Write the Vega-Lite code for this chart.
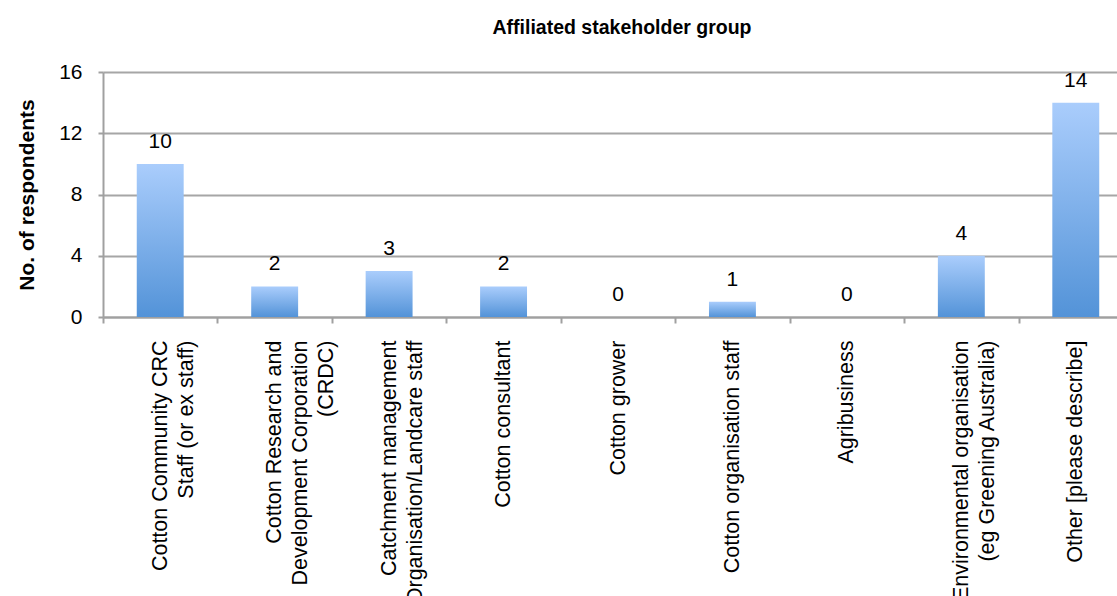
{
  "$schema": "https://vega.github.io/schema/vega-lite/v6.json",
  "width": 1014,
  "height": 245,
  "autosize": {"type": "none"},
  "padding": {"left": 103, "top": 72, "right": 0, "bottom": 279},
  "background": "white",
  "title": {
    "text": "Affiliated stakeholder group",
    "font": "Liberation Sans",
    "fontSize": 19.5,
    "fontWeight": "bold",
    "color": "#000000",
    "anchor": "middle",
    "offset": 23,
    "dx": 12
  },
  "config": {
    "view": {"stroke": null},
    "font": "Liberation Sans"
  },
  "data": {
    "values": [
      {"group": "Cotton Community CRC|Staff (or ex staff)", "count": 10},
      {"group": "Cotton Research and|Development Corporation|(CRDC)", "count": 2},
      {"group": "Catchment management|Organisation/Landcare staff", "count": 3},
      {"group": "Cotton consultant", "count": 2},
      {"group": "Cotton grower", "count": 0},
      {"group": "Cotton organisation staff", "count": 1},
      {"group": "Agribusiness", "count": 0},
      {"group": "Environmental organisation|(eg Greening Australia)", "count": 4},
      {"group": "Other [please describe]", "count": 14}
    ]
  },
  "encoding": {
    "x": {
      "field": "group",
      "type": "nominal",
      "sort": null,
      "scale": {"range": [0, 1030], "paddingInner": 0, "paddingOuter": 0},
      "axis": {
        "title": null,
        "labelExpr": "split(datum.label, '|')",
        "labelAngle": 270,
        "labelAlign": "right",
        "labelBaseline": "middle",
        "labelFont": "Liberation Sans",
        "labelFontSize": 21.5,
        "labelColor": "#000000",
        "labelLineHeight": 26,
        "labelLimit": 600,
        "labelPadding": 17,
        "tickBand": "extent",
        "ticks": true,
        "tickSize": 6,
        "tickColor": "#A0A0A0",
        "tickWidth": 2,
        "domainColor": "#A0A0A0",
        "domainWidth": 2,
        "grid": false
      }
    },
    "y": {
      "field": "count",
      "type": "quantitative",
      "scale": {"domain": [0, 16], "nice": false},
      "axis": {
        "title": "No. of respondents",
        "titleFont": "Liberation Sans",
        "titleFontSize": 21,
        "titleFontWeight": "bold",
        "titleColor": "#000000",
        "titlePadding": 21,
        "values": [0, 4, 8, 12, 16],
        "labelFont": "Liberation Sans",
        "labelFontSize": 21,
        "labelColor": "#000000",
        "labelPadding": 16,
        "tickSize": 5,
        "tickColor": "#A0A0A0",
        "tickWidth": 2,
        "domainColor": "#A0A0A0",
        "domainWidth": 2,
        "gridColor": "#A6A6A6",
        "gridWidth": 2
      }
    }
  },
  "layer": [
    {
      "mark": {
        "type": "bar",
        "width": {"band": 0.41},
        "color": {
          "gradient": "linear",
          "x1": 0, "y1": 0, "x2": 0, "y2": 1,
          "stops": [
            {"offset": 0, "color": "#AACDFC"},
            {"offset": 1, "color": "#5393D8"}
          ]
        }
      }
    },
    {
      "mark": {
        "type": "text",
        "baseline": "bottom",
        "dy": -12,
        "font": "Liberation Sans",
        "fontSize": 21,
        "color": "#000000"
      },
      "encoding": {"text": {"field": "count", "type": "quantitative"}}
    }
  ]
}
